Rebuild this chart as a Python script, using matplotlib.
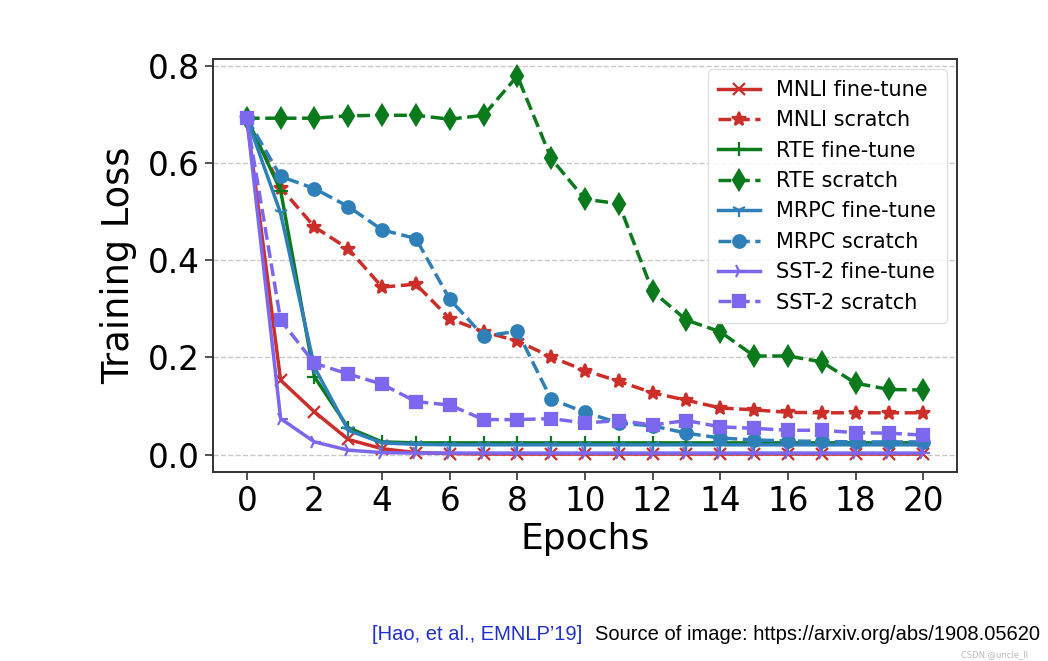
import matplotlib
matplotlib.use("Agg")
import matplotlib.pyplot as plt

# ===== data =====
epochs = list(range(21))

mnli_finetune = [0.693, 0.153, 0.088, 0.031, 0.012, 0.004, 0.002, 0.001, 0.001, 0.001, 0.001,
                 0.001, 0.001, 0.001, 0.001, 0.001, 0.001, 0.001, 0.001, 0.001, 0.001]
mnli_scratch = [0.693, 0.550, 0.469, 0.424, 0.345, 0.351, 0.280, 0.253, 0.234, 0.201, 0.173,
                0.151, 0.127, 0.112, 0.096, 0.092, 0.087, 0.086, 0.086, 0.086, 0.086]
rte_finetune = [0.693, 0.544, 0.160, 0.055, 0.026, 0.024, 0.024, 0.024, 0.024, 0.024, 0.024,
                0.024, 0.024, 0.024, 0.024, 0.024, 0.024, 0.024, 0.024, 0.024, 0.024]
rte_scratch = [0.693, 0.693, 0.693, 0.698, 0.699, 0.699, 0.691, 0.699, 0.780, 0.610, 0.526,
               0.517, 0.336, 0.277, 0.253, 0.203, 0.203, 0.191, 0.147, 0.134, 0.133]
mrpc_finetune = [0.693, 0.497, 0.180, 0.050, 0.024, 0.021, 0.020, 0.020, 0.020, 0.020, 0.020,
                 0.020, 0.020, 0.020, 0.020, 0.020, 0.020, 0.020, 0.020, 0.020, 0.020]
mrpc_scratch = [0.693, 0.573, 0.548, 0.511, 0.463, 0.445, 0.320, 0.244, 0.254, 0.114, 0.087,
                0.065, 0.059, 0.044, 0.034, 0.030, 0.028, 0.027, 0.026, 0.026, 0.026]
sst2_finetune = [0.693, 0.074, 0.026, 0.009, 0.004, 0.003, 0.003, 0.003, 0.003, 0.003, 0.003,
                 0.003, 0.003, 0.003, 0.003, 0.003, 0.003, 0.003, 0.003, 0.003, 0.003]
sst2_scratch = [0.693, 0.277, 0.188, 0.166, 0.145, 0.109, 0.102, 0.072, 0.072, 0.074, 0.065,
                0.070, 0.061, 0.070, 0.057, 0.054, 0.050, 0.050, 0.045, 0.044, 0.040]

labels = ["MNLI fine-tune", "MNLI scratch", "RTE fine-tune", "RTE scratch",
          "MRPC fine-tune", "MRPC scratch", "SST-2 fine-tune", "SST-2 scratch"]
x_ticks = [0, 2, 4, 6, 8, 10, 12, 14, 16, 18, 20]
y_ticks = [0.0, 0.2, 0.4, 0.6, 0.8]

cite_text = "[Hao, et al., EMNLP\u201919]"
source_text = "Source of image: https://arxiv.org/abs/1908.05620"

# ===== styling =====
RED = "#cc2f2a"
GREEN = "#0a7a1c"
BLUE = "#2f80b9"
PURPLE = "#7b68ee"

series = [
    (mnli_finetune, RED, "-", "x", 9),
    (mnli_scratch, RED, "--", "*", 10),
    (rte_finetune, GREEN, "-", "+", 10),
    (rte_scratch, GREEN, "--", "d", 10),
    (mrpc_finetune, BLUE, "-", "1", 10),
    (mrpc_scratch, BLUE, "--", "o", 9),
    (sst2_finetune, PURPLE, "-", "4", 10),
    (sst2_scratch, PURPLE, "--", "s", 8),
]

W, H = 1048, 661
fig = plt.figure(figsize=(W / 100, H / 100), dpi=100)
ax = fig.add_axes([213 / W, 1 - 472 / H, 744 / W, 413 / H])

for (vals, color, ls, marker, ms), label in zip(series, labels):
    ax.plot(epochs, vals, color=color, linestyle=ls, marker=marker, markersize=ms,
            linewidth=2.5, markeredgewidth=1.6, label=label)

ax.set_xticks(x_ticks)
ax.set_yticks(y_ticks)
ax.set_xlim(-1, 21)
ax.set_ylim(-0.036, 0.815)
ax.yaxis.grid(True, linestyle="--", color="#c8c8c8", linewidth=1.0)
ax.set_axisbelow(True)
ax.tick_params(axis="both", labelsize=23.5, length=6, width=1.2, color="#333333")
for sp in ax.spines.values():
    sp.set_color("#333333")
    sp.set_linewidth(1.4)

ax.set_xlabel("Epochs", fontsize=26, labelpad=3)
ax.set_ylabel("Training Loss", fontsize=26.5, labelpad=8)

ax.legend(loc="upper right", fontsize=15, handlelength=2.0, labelspacing=0.5,
          borderpad=0.5, handletextpad=0.8, framealpha=0.9, edgecolor="#dddddd",
          bbox_to_anchor=(1.0, 1.0))

# caption under the chart: size it so it spans the same width as the reference
cap_font = ["Liberation Sans", "DejaVu Sans"]
renderer = fig.canvas.get_renderer()
t1 = fig.text(372 / W, 1 - 635 / H, cite_text, color="#1f2fd0", fontsize=16,
              family=cap_font, va="center", ha="left")
t2 = fig.text(0, 1 - 635 / H, source_text, color="black", fontsize=16,
              family=cap_font, va="center", ha="left")
w1 = t1.get_window_extent(renderer).width
w2 = t2.get_window_extent(renderer).width
gap = 12
size = 16 * (1040 - 372 - gap) / (w1 + w2)
t1.set_fontsize(size)
t2.set_fontsize(size)
t2.set_x((372 + w1 * size / 16 + gap) / W)

fig.text(1028 / W, 1 - 655 / H, "CSDN @uncle_ll", color="#bbbbbb", fontsize=6,
         ha="right", va="center")

fig.savefig("out.png", dpi=100)
